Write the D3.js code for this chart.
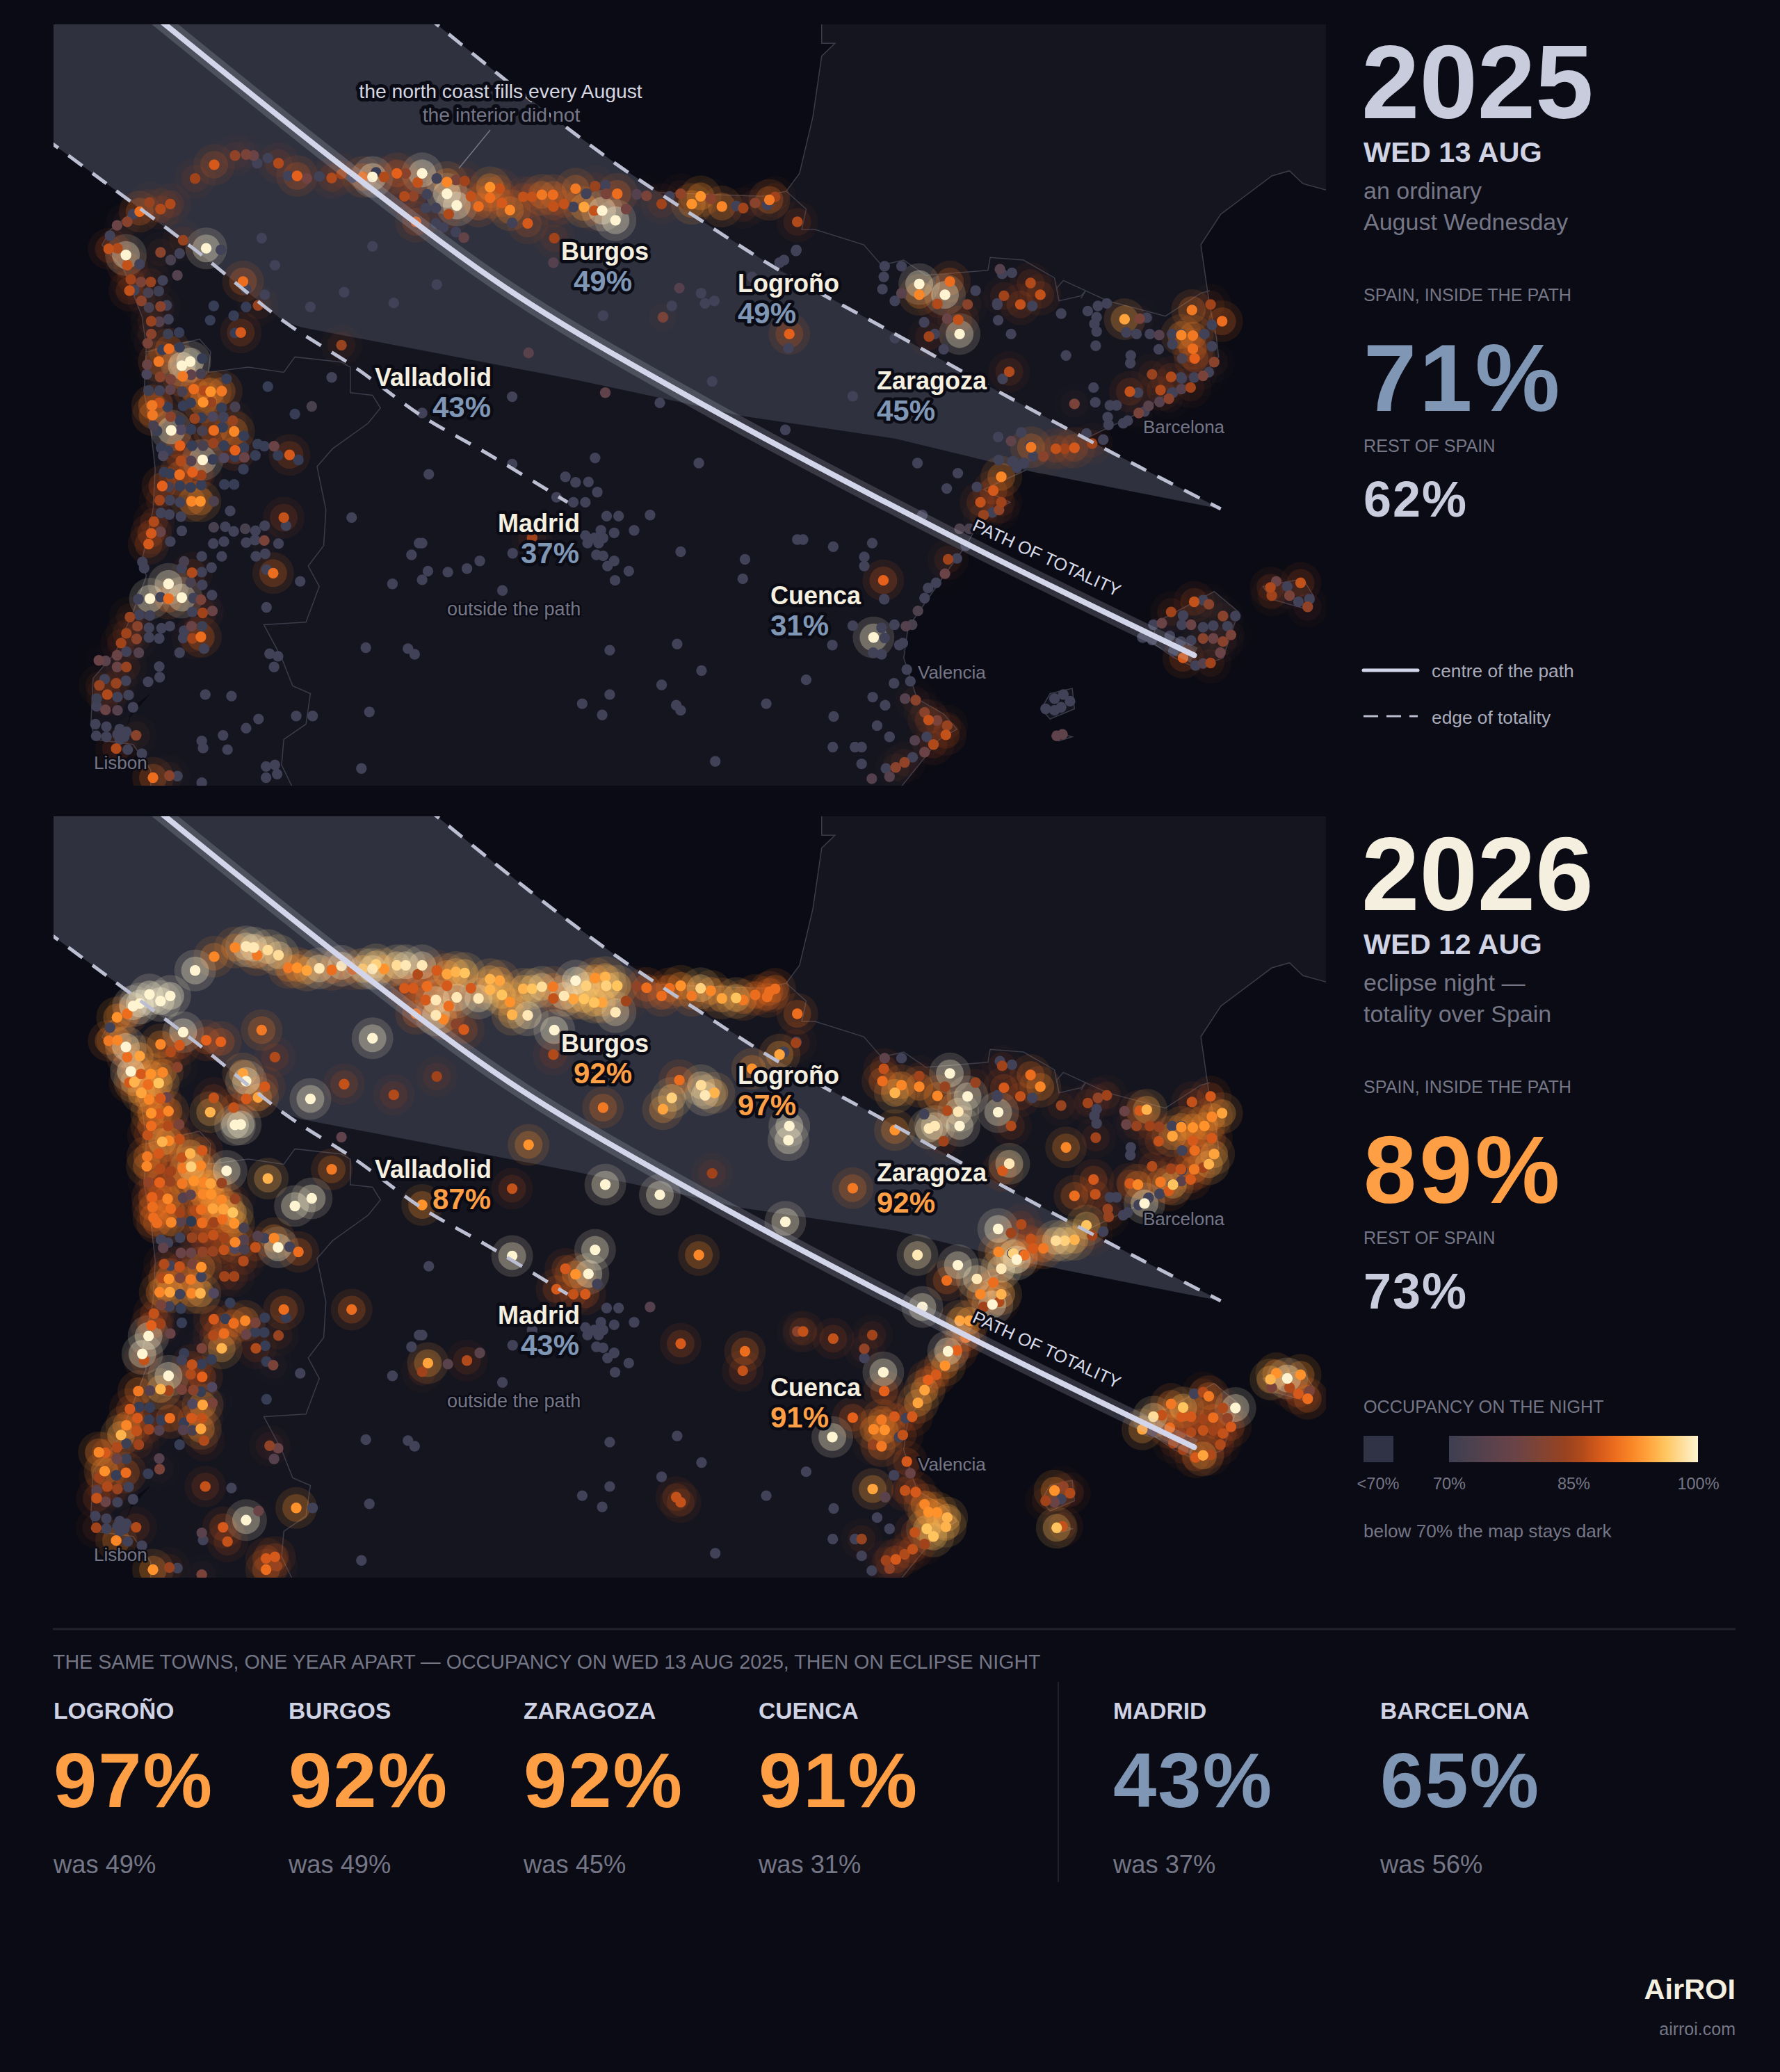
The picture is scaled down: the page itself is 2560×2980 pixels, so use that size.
<!DOCTYPE html>
<html>
<head>
<meta charset="utf-8">
<script src="https://cdn.jsdelivr.net/npm/d3@7"></script>
<style>
html, body { margin: 0; background: #0a0b14; }
svg { display: block; }
text { font-family: "Liberation Sans", Arial, sans-serif; }
</style>
</head>
<body>
<svg id="chart" width="2560" height="2980" viewBox="0 0 2560 2980"></svg>
<script>
// every town is [grid east, grid south, occupancy 2025, occupancy 2026]
const northCoast = [
	[440,350,85,100],[483,323,88,92],[530,305,83,92],[555,303,80,99],[572,305,78,99],[580,320,60,91],[604,310,60,98],[628,320,86,98],[650,345,60,91],[670,345,89,93],
	[692,350,79,94],[720,346,60,99],[748,349,86,90],[770,341,85,99],[795,348,60,88],[818,347,90,96],[840,347,100,99],[848,338,55,97],[866,347,86,93],[895,340,89,98],
	[915,340,82,99],[952,340,100,99],[942,358,87,86],[912,385,86,88],[932,385,83,88],[963,381,60,90],[985,350,60,88],[1008,357,92,94],[1028,353,80,95],[1048,355,85,96],
	[1008,380,100,88],[1030,403,100,99],[1012,420,86,90],[960,408,60,88],[983,408,60,99],[938,435,88,90],[983,438,60,99],[1000,446,60,92],[1028,455,60,82],[1046,466,77,88],
	[1062,385,87,88],[1079,405,90,99],[1105,367,93,95],[1105,388,90,95],[1127,370,87,94],[1132,398,88,96],[1150,412,92,93],[1180,386,87,95],[1200,386,87,96],[1222,382,91,98],
	[1248,405,87,87],[1247,382,90,91],[1272,400,87,99],[1298,370,91,100],[1293,406,60,94],[1317,406,94,96],[1322,380,60,97],[1340,413,87,96],[1342,365,84,93],[1367,380,80,97],
	[1365,363,60,95],[1392,380,90,96],[1358,413,100,94],[1388,432,100,99],[1412,410,79,85],[1436,381,74,83],[1458,384,80,90],[1492,400,85,90],[1510,385,60,90],[1535,380,83,93],
	[1560,400,93,91],[1580,385,93,97],[1603,390,82,92],[1628,405,92,94],[1660,404,60,96],[1676,408,85,91],[1703,398,82,90],[1730,402,60,90],[1735,392,91,90],[1748,386,85,90],[1798,435,86,90]
];
const castile = [
	[1250,467,85,100],[1248,515,74,86],[1190,438,88,99],[1155,437,60,95],[1532,565,74,90],[1495,622,80,94],[1515,600,60,97],[1360,619,60,91],[1192,692,75,93],[1155,778,60,87],
	[1365,770,76,100],[1488,790,60,100],[590,467,60,91],[620,520,60,86],[840,483,60,100],[776,573,60,87],[700,602,60,100],[888,594,60,86],[985,558,60,85],[548,552,90,94],
	[555,567,60,100],[597,578,60,88],[465,487,100,89],[498,490,60,89],[413,471,84,100],[405,497,60,88],[362,495,82,92],[385,510,72,86],[400,540,74,82],
	[770,677,84,76],[748,740,60,91],[952,810,60,93],[1155,910,60,100],[1342,898,60,100],[1275,935,60,88],[1298,946,60,93],[1327,945,60,100],[1255,975,60,88],[1293,985,60,87],
	[1320,985,60,88],[1347,965,60,60],[1576,908,60,92],[1771,843,60,100],[1606,748,60,85],[1758,515,60,94],[1795,492,60,85],[1696,543,60,93],[1581,575,60,98],[1590,595,60,99],
	[1611,590,60,95],[1780,655,89,100],[1778,683,60,100],[1923,777,60,91],[2018,663,60,93],[1768,510,60,60]
];
const madridPlain = [
	[1368,1012,60,60],[1395,1012,60,60],[1466,1010,60,74],[1320,1050,60,60],[1355,1040,60,60],[1385,1045,60,60],[1430,1040,60,60],[1340,1055,60,60],[1350,1065,60,60],[1360,1055,60,60],
	[1325,1065,60,60],[1345,1088,60,60],[1360,1090,60,60],[1385,1100,60,60],[1370,1110,60,60],[1418,1120,60,60],[1387,1138,60,60],[1535,1082,60,88],[1200,1055,85,60],[1156,1085,60,60],
	[1082,1100,60,75],[1053,1115,60,86],[1010,1122,60,75],[965,1120,60,94],[952,1137,60,85],[928,1088,60,60],[945,1065,60,60],[952,1065,60,60],[885,1145,60,60],[1133,1158,60,60],
	[825,1270,60,60],[920,1272,60,60],[935,1283,60,60],[1375,1275,60,60],[1527,1263,60,60],[1313,1380,60,60],[1375,1362,60,60],[1358,1402,60,60],[1525,1383,60,87],[1535,1393,60,87],
	[1492,1343,60,60],[833,1396,60,60],[815,1507,60,60],[793,1015,60,90],[967,930,60,60],[1582,1315,60,60],[1613,1493,60,60],[1728,1380,60,60],[1880,1405,60,60],
	[1818,1333,60,60],[1878,1465,60,60],[1928,1465,60,60],[1943,1465,60,84]
];
const galicia = [
	[315,415,90,100],[337,397,84,100],[362,410,86,100],[384,400,86,100],[300,420,60,100],[287,435,82,90],[264,442,78,93],[248,462,60,60],[245,488,87,91],[265,487,86,92],
	[284,500,100,100],[287,520,87,90],[315,518,60,94],[295,548,85,100],[318,553,80,88],[340,553,84,93],[367,550,60,92]
];
const minho = [
	[292,570,87,88],[303,569,60,95],[334,574,72,90],[358,571,70,96],[319,590,82,94],[336,603,72,92],[362,601,82,88],[376,599,60,78],[482,600,55,87],[555,602,55,88],
	[582,599,84,94],[341,630,84,93],[359,631,74,88],[380,626,60,92],[527,619,55,87],[474,628,55,95],[543,652,88,100],[530,653,55,100],[341,655,82,90],[379,655,70,86],
	[404,652,55,80],[333,673,80,87],[366,686,55,95],[381,684,90,92],[405,681,55,87],[332,715,78,91],[358,709,91,88],[410,717,100,87],[429,709,100,95],[456,703,55,88],
	[331,734,65,92],[361,739,82,86],[385,744,80,85],[412,738,91,91],[431,735,76,97],[453,733,72,92],[511,743,55,100],[604,758,55,95],[335,766,70,83],[360,766,60,89],
	[384,764,76,84],[411,768,72,91],[437,763,90,93],[460,766,86,92],[475,768,93,94],[500,767,91,84],[458,789,93,92],[476,789,84,93],[343,795,91,89],[359,790,87,86],
	[378,798,55,92],[430,790,55,76],[413,796,55,74],[500,800,55,92],[530,798,72,84],[703,797,72,100],[665,812,55,100]
];
const beira = [
	[344,814,91,90],[385,817,82,90],[406,825,55,85],[439,821,84,86],[454,819,55,90],[480,817,66,94],[504,818,60,94],[525,825,84,96],[346,835,72,90],[354,845,70,90],
	[386,844,100,92],[408,843,68,75],[431,842,55,50],[456,845,72,90],[482,844,90,85],[502,838,55,90],[528,846,92,93],[550,855,55,72],[406,874,89,60],[433,874,55,84],
	[458,874,72,86],[481,869,84,87],[505,874,55,85],[530,883,89,92],[550,878,55,74],[581,871,55,74],[596,875,55,60],[576,893,55,87],[618,875,78,92],[627,893,55,100],
	[653,892,88,60],[673,902,55,90],[368,894,65,76],[363,878,55,60],[379,884,55,60],[408,904,86,78],[431,904,74,78],[457,902,100,83],[480,901,55,84],[505,898,68,87],
	[551,897,78,72],[530,896,55,68],[549,920,55,86],[370,926,55,86],[384,929,55,60],[405,931,90,87],[434,926,89,80],[454,932,85,93],[506,950,55,85],[528,950,55,85],
	[366,953,89,86],[381,955,72,93],[406,953,55,80],[430,956,55,91],[454,951,55,60]
];
const estremadura = [
	[360,981,85,92],[383,981,60,94],[406,985,60,60],[432,983,92,92],[452,983,93,95],[482,983,73,68],[363,1006,60,80],[382,1009,60,60],[408,1013,60,55],[519,1002,60,55],
	[640,1015,87,90],[645,1031,60,55],[347,1023,86,87],[341,1046,88,89],[362,1043,78,85],[384,1062,60,78],[410,1041,60,55],[482,1034,72,88],[508,1033,60,55],[527,1042,60,90],
	[553,1037,72,92],[576,1041,60,80],[597,1031,60,55],[481,1066,60,86],[505,1062,60,90],[555,1064,60,78],[575,1059,60,55],[596,1060,80,55],[628,1066,60,84],[335,1067,88,100],
	[321,1102,60,100],[325,1114,60,87],[455,1091,60,80],[500,1091,60,95],[577,1091,60,86],[598,1086,60,55],[415,1101,72,55],[410,1114,60,60],[433,1123,86,87],[455,1122,60,55],
	[477,1113,60,55],[601,1117,60,55],[616,1124,90,80],[380,1145,100,100],[430,1142,72,86],[456,1147,60,89],[312,1175,60,91],[380,1174,90,85],[362,1171,60,95],[338,1174,100,74],
	[410,1172,100,80],[436,1173,60,82],[453,1176,80,55],[478,1167,60,68],[601,1191,60,55],[434,1200,60,68],[457,1202,85,94],[479,1198,78,80],[293,1210,84,88],[314,1206,60,55],
	[338,1207,60,55],[310,1228,82,88],[336,1231,60,55],[364,1232,60,55],[383,1228,60,90],[432,1228,78,88],[456,1228,70,87],[285,1242,85,92],[308,1253,82,87],[336,1250,60,85],
	[359,1252,60,74],[413,1251,60,74],[434,1252,85,72],[453,1249,90,94],[415,1237,60,55],[273,1261,85,95],[264,1285,78,86],[285,1278,60,70],[313,1280,74,85],[405,1280,60,55],
	[460,1272,60,86],[223,1295,78,92],[238,1296,75,88],[264,1308,78,78],[285,1308,84,70],[359,1307,60,74],[360,1328,60,80],[334,1337,60,55],[608,1282,60,83],[627,1287,60,78],
	[618,1308,60,74],[236,1332,60,93],[262,1340,84,55],[284,1335,60,90],[224,1344,84,85]
];
const lisbonArea = [
	[242,1362,86,86],[265,1367,60,84],[218,1370,70,75],[218,1385,60,87],[290,1363,60,60],[238,1392,78,78],[265,1393,74,60],[300,1387,60,60],[215,1420,60,60],[240,1425,60,60],
	[217,1443,60,85],[240,1445,60,60],[270,1430,60,60],[285,1435,60,60],[265,1440,60,60],[270,1450,60,60],[280,1445,60,60],[307,1442,82,86],[262,1468,86,92],[288,1470,60,60],
	[320,1478,60,60],[345,1525,90,93],[382,1521,82,84],[400,1522,60,60],[463,1362,60,87],[522,1365,60,60],[555,1428,60,100],[583,1410,60,78],[503,1442,60,88],[455,1453,60,75],
	[458,1467,60,60],[513,1470,60,87],[668,1404,60,93],[705,1404,60,60],[600,1503,60,88],[620,1500,60,88],[600,1525,60,90],[625,1518,60,84],[455,1535,60,80],[677,1140,60,60]
];
const ebro = [
	[1796,490,60,60],[1995,522,60,76],[1993,543,60,87],[1990,567,60,90],[2073,557,100,85],[2073,578,92,92],[2033,522,60,60],[2033,575,75,92],[2018,590,60,95],[2142,552,90,100],
	[2131,578,100,84],[2114,596,86,92],[2182,597,82,100],[2200,570,60,84],[2136,625,78,86],[2161,627,87,99],[2164,655,100,100],[2084,632,60,60],[2095,660,85,99],[2108,655,60,99],
	[2128,685,60,85],[2255,528,74,60],[2282,535,60,60],[2260,537,60,85],[2324,555,86,90],[2264,580,85,88],[2301,597,87,87],[2346,578,87,92],[2249,598,60,60],[2328,600,60,60],
	[2251,628,60,100],[2280,655,60,86],[2249,595,60,60],[2393,615,60,84],[2453,610,60,85],[2476,600,60,83],[2496,595,60,85],[2473,622,60,60],[2468,635,60,60],[2473,650,60,60],
	[2471,678,60,85],[2404,697,60,92],[2550,697,60,60],[2549,712,60,60],[2276,729,86,99],[2261,743,60,88]
];
const catalonia = [
	[2570,625,80,88],[2536,626,94,78],[2586,623,60,95],[2540,652,60,78],[2563,655,60,84],[2593,655,60,85],[2614,657,74,84],[2613,685,60,87],[2643,655,60,60],[2664,655,60,60],
	[2644,675,60,94],[2664,657,92,93],[2688,608,91,87],[2730,597,85,88],[2756,630,90,94],[2690,658,91,93],[2716,655,60,93],[2733,637,60,92],[2733,679,60,88],[2690,684,90,88],
	[2694,703,89,90],[2738,710,82,94],[2726,730,60,95],[2713,737,80,85],[2693,740,60,91],[2666,703,73,60],[2665,742,60,60],[2598,734,84,86],[2641,739,86,85],[2663,740,60,87],
	[2617,765,86,91],[2645,770,60,96],[2685,760,85,88],[2636,782,82,88],[2664,763,74,75],[2643,770,60,60],[2615,788,74,60],[2590,796,75,60],[2568,810,80,60],[2548,768,87,88],
	[2566,770,60,92],[2581,807,60,100],[2533,830,60,60],[2543,825,60,60],[2503,795,60,60],[2518,795,60,60],[2498,818,60,84],[2500,833,60,84],[2488,862,60,60],[2423,792,80,90],
	[2466,760,60,88],[2470,789,60,87]
];
const levante = [
	[2450,850,60,96],[2463,870,85,85],[2423,878,88,95],[2401,880,85,97],[2381,880,87,98],[2353,895,82,91],[2330,895,60,88],[2325,877,91,87],[2303,848,60,86],[2280,865,76,85],
	[2323,875,60,82],[2310,908,60,90],[2293,917,60,100],[2283,905,60,60],[2308,908,60,60],[2258,935,92,99],[2252,902,60,92],[2285,905,60,97],[2251,857,60,100],[2240,962,88,90],
	[2211,985,87,92],[2258,985,85,95],[2253,1000,83,86],[2218,1010,84,85],[2238,1005,60,100],[2203,955,60,99],[2160,928,60,100],[2135,958,60,90],[2069,908,60,99],[2080,1010,60,100],
	[2164,1037,73,94],[2186,1037,72,94],[2178,1070,60,90],[2138,1097,85,100],[2158,1095,60,89],[2131,1125,78,93],[2111,1143,60,88],[2093,1153,60,89],[2085,1173,60,94],[2070,1198,73,94],
	[2057,1225,72,88],[2043,1228,74,60],[2036,1261,60,87],[2028,1265,60,60],[2045,1313,60,88],[2016,1340,60,60],[2053,1336,60,78],[2041,1370,74,87],[2065,1373,82,88],[2085,1397,82,92],
	[2094,1412,87,93],[2113,1413,80,93],[2136,1423,84,95],[2133,1441,87,95],[2090,1445,60,96],[2105,1460,86,96],[2063,1452,74,87],[2085,1475,78,85],[2058,1485,60,87],[2040,1495,83,86],
	[2020,1505,82,88],[1998,1507,60,85],[2006,1523,74,83],[1966,1527,74,60],[1943,1498,60,60],[1968,1367,60,94],[1996,1383,60,75],[1978,1423,60,60],[2006,1445,60,60]
];
const manchuela = [
	[1992,1138,89,100],[1994,1175,60,89],[1970,1250,100,92],[1877,1265,60,100],[1923,1227,60,89],[1988,1231,60,91],[1995,1251,60,93],[2017,1225,60,88],[1988,1283,60,91],[1969,1280,60,84],
	[1811,1058,60,87],[1798,1058,60,82],[1879,1072,60,87],[1967,1065,60,85],[1949,1092,60,83],[1680,1097,60,90],[1675,1135,60,87],[1949,1110,60,60]
];
const balearics = [
	[2641,1200,85,91],[2693,1180,87,60],[2713,1177,60,86],[2726,1185,82,91],[2668,1207,60,96],[2601,1225,60,98],[2576,1250,60,94],[2638,1247,60,90],[2620,1222,78,87],[2665,1225,60,88],
	[2686,1225,78,88],[2713,1230,60,85],[2736,1227,60,90],[2758,1208,82,86],[2768,1228,60,83],[2786,1208,60,100],[2776,1245,80,88],[2758,1258,82,87],[2736,1252,78,85],[2713,1252,82,87],
	[2686,1256,60,86],[2663,1258,60,84],[2752,1280,78,86],[2713,1301,74,94],[2730,1300,85,86],[2696,1305,60,88],[2668,1290,88,85],[2646,1277,60,85],[2578,1250,60,60],[2598,1255,60,75],
	[2865,1152,86,95],[2878,1140,78,93],[2868,1168,85,80],[2903,1150,60,100],[2933,1143,87,93],[2908,1168,80,86],[2928,1180,60,88],[2953,1175,60,80],[2949,1190,83,90],
	[2358,1390,60,85],[2378,1370,60,93],[2398,1362,60,83],[2413,1375,60,86],[2393,1387,60,60],[2378,1393,60,78],[2383,1443,76,96],[2396,1440,76,87]
];
const towns = [northCoast, castile, madridPlain, galicia, minho, beira, estremadura, lisbonArea, ebro, catalonia, levante, manchuela, balearics].flat();

// coast, borders and the eclipse path in the same grid
const mainland = [[1853,20],[1853,85],[1883,85],[1853,110],[1833,230],[1803,340],[1773,375],[1720,385],[1400,375],[1100,365],[850,340],[720,345],[600,310],[520,310],[440,345],[380,390],[300,415],[250,450],[230,480],[280,530],[320,620],[330,680],[325,770],[340,840],[350,920],[345,1000],[320,1100],[330,1130],[300,1200],[260,1280],[210,1330],[205,1420],[215,1450],[300,1460],[340,1510],[340,1580],[1998,1580],[2118,1450],[2158,1430],[2128,1400],[2068,1370],[2038,1290],[2048,1230],[2128,1130],[2178,1070],[2218,1010],[2278,985],[2218,960],[2318,920],[2448,860],[2568,810],[2618,780],[2708,740],[2748,700],[2743,660],[2728,600],[2718,540],[2708,480],[2753,420],[2868,345],[2908,335],[2938,360],[3000,375],[3000,20]];
const mallorca = [[2608,1220],[2738,1160],[2793,1200],[2758,1290],[2698,1310],[2648,1290],[2598,1260]];
const menorca = [[2848,1150],[2938,1135],[2963,1170],[2948,1195],[2868,1175]];
const ibiza = [[2348,1390],[2368,1360],[2418,1350],[2423,1390],[2368,1410]];
const formentera = [[2378,1435],[2418,1445],[2388,1453]];
const tagus = [[340,1360],[300,1385],[280,1440],[295,1405]];
const portugalBorder = [[330,690],[450,665],[475,690],[470,730],[560,720],[640,730],[665,700],[770,710],[790,720],[790,770],[840,775],[858,800],[830,830],[750,880],[715,915],[735,1000],[730,1070],[695,1110],[720,1150],[690,1220],[595,1225],[635,1290],[660,1345],[700,1360],[690,1420],[640,1450],[635,1500],[660,1545]];
const franceBorder = [[1773,375],[1818,410],[1808,450],[1838,450],[1948,480],[1988,520],[2038,510],[2088,540],[2228,530],[2233,505],[2308,510],[2378,545],[2388,590],[2438,580],[2448,570],[2498,590],[2628,620],[2708,575],[2728,570]];
const andorra = [[2388,590],[2383,565],[2398,550],[2448,570],[2438,585]];
const centreLine = [[340,25],[800,345],[1150,570],[1568,785],[2188,1070],[2693,1285]];
const upperEdge = [[960,30],[1130,150],[1270,245],[1395,325],[1568,425],[1748,525],[1998,645],[2298,790],[2568,915],[2753,998]];
const lowerEdge = [[100,270],[240,360],[440,490],[640,630],[800,720],[950,815],[1100,890],[1280,985]];
const bandShade = [[2753,998],[2328,925],[2018,860],[1668,815],[1568,795],[1300,745],[1000,695],[680,642],[640,630],[440,490],[240,360],[100,270],[60,20]];

// texts and figures
const panelYears = ["2025", "2026"];
const panelDates = ["WED 13 AUG", "WED 12 AUG"];
const panelNotes = [["an ordinary", "August Wednesday"], ["eclipse night \u2014", "totality over Spain"]];
const insidePath = [71, 89];
const restOfSpain = [62, 73];
const cityNames = ["Burgos", "Valladolid", "Logro\u00f1o", "Zaragoza", "Madrid", "Cuenca"];
const cityShare2025 = [49, 43, 49, 45, 37, 31];
const cityShare2026 = [92, 87, 97, 92, 43, 91];
const compareNames = ["LOGRO\u00d1O", "BURGOS", "ZARAGOZA", "CUENCA", "MADRID", "BARCELONA"];
const compareNow = [97, 92, 92, 91, 43, 65];
const compareWas = [49, 49, 45, 31, 37, 56];
const scaleStops = [70, 78, 85, 89, 93, 96, 100];
const scaleColours = ["#3d3f52", "#6a4347", "#a0431a", "#e5601a", "#ff922b", "#ffc45e", "#fff4d2"];
const scaleTicks = [70, 85, 100];

const Sea = "#0a0b14", Land = "#14151f", Band = "#2f313e", Edge = "#3a3c4a";
const Muted = "#757686", Blue = "#7f96b5", Amber = "#ff9f45", Pale = "#c8ccdd", Cream = "#f5efe0";
const PanelStep = 1139;

const svg = d3.select("#chart");
const x = d3.scaleLinear().domain([0, 3136]).range([0, 2000]);
const y = d3.scaleLinear().domain([0, 1568]).range([0, 1150]);
const colour = d3.scaleLinear().domain(scaleStops).range(scaleColours).clamp(true);
const darkColour = d3.scaleLinear().domain([50, 70]).range(["#2c3950", "#55495f"]);
const line = d3.line().x(d => x(d[0])).y(d => y(d[1]));
const smooth = d3.line().x(d => x(d[0])).y(d => y(d[1])).curve(d3.curveCatmullRom.alpha(.5));
const closed = pts => line(pts) + "Z";

svg.append("defs").append("clipPath").attr("id", "panelclip")
	.append("rect").attr("x", 77).attr("y", 35).attr("width", 1830).attr("height", 1095);

function label(g, txt, xp, yp, size, fill, opts = {}) {
	const t = g.append("text").attr("x", xp).attr("y", yp).attr("font-size", size).attr("fill", fill).text(txt);
	if(opts.bold) t.attr("font-weight", 700);
	if(opts.anchor) t.attr("text-anchor", opts.anchor);
	if(opts.spacing) t.attr("letter-spacing", opts.spacing);
	if(opts.halo) t.attr("stroke", Sea).attr("stroke-width", opts.halo).attr("stroke-linejoin", "round").attr("paint-order", "stroke");
	return t;
}

function drawMap(g, yi) {
	const key = 2 + yi;
	const map = g.append("g").attr("clip-path", "url(#panelclip)");
	map.selectAll("path.land").data([mainland, mallorca, menorca, ibiza, formentera]).enter().append("path").attr("class", "land")
		.attr("d", closed).attr("fill", Land).attr("stroke", Edge).attr("stroke-width", 1.5);
	map.append("path").attr("d", closed(tagus)).attr("fill", Sea);
	map.append("path").attr("d", closed(upperEdge.concat(bandShade))).attr("fill", Band);
	map.selectAll("path.border").data([portugalBorder, franceBorder, andorra]).enter().append("path").attr("class", "border")
		.attr("d", line).attr("fill", "none").attr("stroke", Edge).attr("stroke-width", 1.5);

	const sorted = towns.slice().sort((a, b) => a[key] - b[key]);
	const glow = sorted.filter(d => d[key] >= 78);
	const strength = d3.scaleLinear().domain([78, 85, 90, 95, 100]).range([.03, .12, .22, .26, .3]);
	map.append("g").selectAll("circle").data(glow).enter().append("circle")
		.attr("cx", d => x(d[0])).attr("cy", d => y(d[1])).attr("r", 30)
		.attr("fill", d => colour(d[key])).attr("opacity", d => strength(d[key]) * .5);
	map.append("g").selectAll("circle").data(glow).enter().append("circle")
		.attr("cx", d => x(d[0])).attr("cy", d => y(d[1])).attr("r", 20)
		.attr("fill", d => colour(d[key])).attr("opacity", d => strength(d[key]));
	map.append("g").selectAll("circle").data(sorted).enter().append("circle")
		.attr("cx", d => x(d[0])).attr("cy", d => y(d[1])).attr("r", 7.7)
		.attr("fill", d => d[key] < 70 ? darkColour(d[key]) : colour(d[key]));

	for(const edge of [upperEdge, lowerEdge])
		map.append("path").attr("d", smooth(edge)).attr("fill", "none").attr("stroke", "#bcbfd2").attr("stroke-width", 5).attr("stroke-dasharray", "25 18");
	map.append("path").attr("d", smooth(centreLine)).attr("fill", "none").attr("stroke", Pale).attr("stroke-opacity", .2).attr("stroke-width", 24);
	map.append("path").attr("d", smooth(centreLine)).attr("fill", "none").attr("stroke", "#d3d6ea").attr("stroke-width", 8).attr("stroke-linecap", "round");

	label(g, "PATH OF TOTALITY", 0, 0, 25.3, "#d8dae8", { halo: 7 }).attr("transform", "translate(1397,762) rotate(24.7)");
	label(g, "Lisbon", 135, 1106, 26, Muted, { halo: 5 });
	label(g, "Barcelona", 1644, 623, 26, Muted, { halo: 5 });
	label(g, "Valencia", 1320, 976, 26, Muted, { halo: 5 });
	label(g, "outside the path", 643, 885, 27, Muted, { halo: 5 });

	const spots = [[870, 374, "middle", 867, "middle"], [707, 555, "end", 706, "end"], [1061, 420, "start", 1061, "start"], [1261, 560, "start", 1261, "start"], [834, 765, "end", 833, "end"], [1108, 869, "start", 1108, "start"]];
	const shares = yi ? cityShare2026 : cityShare2025;
	cityNames.forEach((name, i) => {
		const s = spots[i];
		label(g, name, s[0], s[1], 36, Cream, { bold: true, anchor: s[2], halo: 9 });
		label(g, shares[i] + "%", s[3], s[1] + 45, 42, shares[i] >= 70 ? Amber : Blue, { bold: true, anchor: s[4], halo: 9 });
	});
}

function drawSide(g, yi) {
	const left = 1961;
	label(g, panelYears[yi], left - 3, 170, 150, yi ? Cream : Pale, { bold: true });
	label(g, panelDates[yi], left, 233, 41.5, "#d0d3e3", { bold: true });
	label(g, panelNotes[yi][0], left, 286, 34, Muted);
	label(g, panelNotes[yi][1], left, 331, 34, Muted);
	label(g, "SPAIN, INSIDE THE PATH", left, 433, 25.2, Muted);
	label(g, insidePath[yi] + "%", left, 591, 137, yi ? Amber : Blue, { bold: true, spacing: 4 });
	label(g, "REST OF SPAIN", left, 650, 25.2, Muted);
	label(g, restOfSpain[yi] + "%", left, 743, 72, Pale, { bold: true, spacing: 2 });
}

[0, 1].forEach(yi => {
	const g = svg.append("g").attr("transform", `translate(0,${yi * PanelStep})`);
	drawMap(g, yi);
	drawSide(g, yi);
});

// the note on the first map
const note = svg.append("g");
note.append("line").attr("x1", 705).attr("y1", 187).attr("x2", 660).attr("y2", 242).attr("stroke", Muted).attr("stroke-width", 1.5);
label(note, "the north coast fills every August", 720, 141, 28.3, "#d5d6e0", { anchor: "middle", halo: 10 });
label(note, "the interior did not", 721, 175, 28.3, Muted, { anchor: "middle", halo: 10 });

// line key
const key = svg.append("g");
key.append("line").attr("x1", 1961).attr("x2", 2039).attr("y1", 964).attr("y2", 964).attr("stroke", "#d3d6ea").attr("stroke-width", 5).attr("stroke-linecap", "round");
key.append("line").attr("x1", 1961).attr("x2", 2039).attr("y1", 1030).attr("y2", 1030).attr("stroke", "#b9bccd").attr("stroke-width", 3).attr("stroke-dasharray", "21 12");
label(key, "centre of the path", 2059, 974, 26.3, "#a9abbb");
label(key, "edge of totality", 2059, 1041, 26.3, "#a9abbb");

// occupancy scale
const ramp = svg.append("g");
const rampX = d3.scaleLinear().domain([70, 100]).range([2084, 2442]);
const grad = svg.select("defs").append("linearGradient").attr("id", "ramp");
grad.selectAll("stop").data(d3.range(70, 101, 2)).enter().append("stop")
	.attr("offset", d => (d - 70) / 30).attr("stop-color", d => colour(d));
label(ramp, "OCCUPANCY ON THE NIGHT", 1961, 2032, 25.2, Muted);
ramp.append("rect").attr("x", 1961).attr("y", 2065).attr("width", 43).attr("height", 38).attr("fill", "#2f3345");
ramp.append("rect").attr("x", rampX(70)).attr("y", 2065).attr("width", rampX(100) - rampX(70)).attr("height", 38).attr("fill", "url(#ramp)");
const rampAxis = ramp.append("g").attr("transform", "translate(0,2103)")
	.call(d3.axisBottom(rampX).tickValues(scaleTicks).tickFormat(d => d + "%").tickSize(0).tickPadding(22));
rampAxis.select(".domain").remove();
rampAxis.selectAll("text").attr("font-size", 23.5).attr("fill", Muted).attr("font-family", null);
label(ramp, "<70%", 1982, 2142, 23.5, Muted, { anchor: "middle" });
label(ramp, "below 70% the map stays dark", 1961, 2211, 26.2, Muted);

// comparison strip
const strip = svg.append("g");
const compareX = [77, 415, 753, 1091, 1601, 1985];
strip.append("line").attr("x1", 76).attr("x2", 2496).attr("y1", 2343).attr("y2", 2343).attr("stroke", "#20222e").attr("stroke-width", 3);
strip.append("line").attr("x1", 1522).attr("x2", 1522).attr("y1", 2419).attr("y2", 2707).attr("stroke", "#20222e").attr("stroke-width", 2);
label(strip, "THE SAME TOWNS, ONE YEAR APART \u2014 OCCUPANCY ON WED 13 AUG 2025, THEN ON ECLIPSE NIGHT", 76, 2400, 28.6, Muted);
compareNames.forEach((name, i) => {
	label(strip, name, compareX[i], 2472, 33.6, "#d0d3e3", { bold: true });
	label(strip, compareNow[i] + "%", compareX[i], 2599, 112, i < 4 ? Amber : Blue, { bold: true, spacing: 2 });
	label(strip, "was " + compareWas[i] + "%", compareX[i], 2694, 36.3, Muted);
});
label(strip, "AirROI", 2496, 2875, 41.5, Cream, { bold: true, anchor: "end" });
label(strip, "airroi.com", 2496, 2927, 25, Muted, { anchor: "end" });
</script>
</body>
</html>
